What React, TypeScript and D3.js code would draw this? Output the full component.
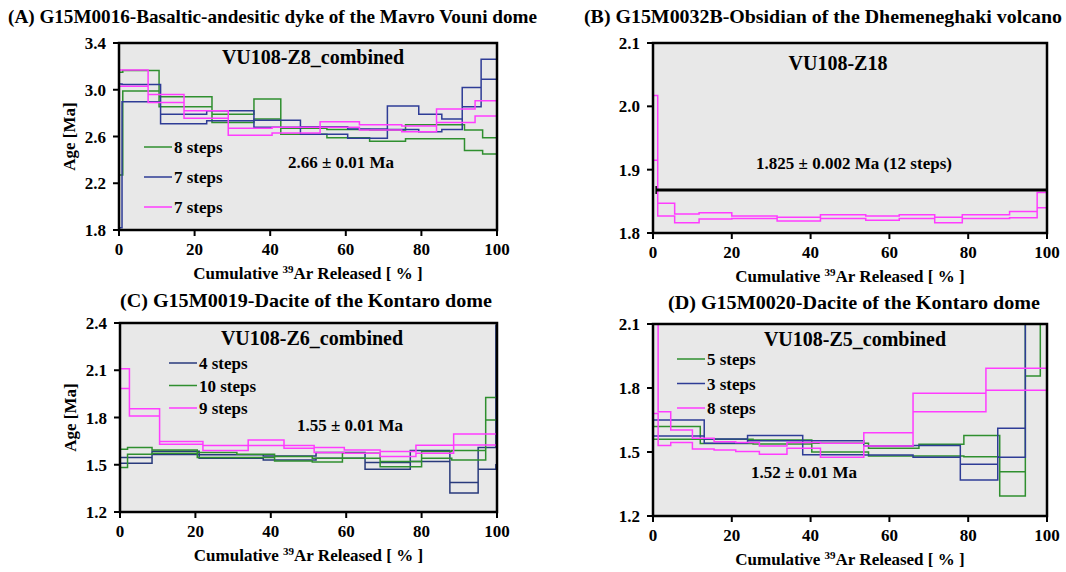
import React from "react";
import * as d3 from "d3";

const FONT = "'Liberation Serif', 'Times New Roman', serif";
const GREEN = "#2f8f2f";
const BLUE = "#2e3c96";
const NAVY = "#283a7c";
const MAGENTA = "#ff3cff";

// ---------- Panel A : VU108-Z8_combined ----------
const aGreenEdges = [0, 1, 10.6, 24.6, 35.7, 42.8, 55, 66.3, 75.8, 91.4, 96.2, 100];
const aGreenHi = [3.15, 3.165, 2.94, 2.79, 2.92, 2.67, 2.66, 2.656, 2.7, 2.656, 2.59];
const aGreenLo = [2.27, 2.99, 2.855, 2.72, 2.75, 2.62, 2.59, 2.56, 2.58, 2.48, 2.45];

const aBlueEdges = [0, 0.8, 11, 23.2, 35.7, 48, 60.5, 71, 79.3, 85.4, 90.8, 95.8, 100];
const aBlueHi = [3.05, 3.045, 2.79, 2.82, 2.74, 2.684, 2.665, 2.86, 2.79, 2.75, 3.02, 3.26];
const aBlueLo = [1.82, 2.898, 2.71, 2.735, 2.68, 2.62, 2.585, 2.66, 2.64, 2.66, 2.855, 3.09];

const aPinkEdges = [0, 7.7, 17.2, 28.9, 40.5, 53.2, 63.6, 74.8, 84, 94.2, 100];
const aPinkHi = [3.17, 2.96, 2.82, 2.67, 2.68, 2.727, 2.7, 2.69, 2.835, 2.906];
const aPinkLo = [3.03, 2.89, 2.756, 2.61, 2.63, 2.68, 2.656, 2.64, 2.72, 2.776];

// ---------- Panel B : VU108-Z18 ----------
const bPinkEdges = [0, 1.2, 5.5, 11.7, 20, 31.5, 42.5, 54, 62.5, 71.5, 78.5, 90.5, 97.5, 100];
const bPinkHi = [2.017, 1.847, 1.83, 1.832, 1.827, 1.825, 1.829, 1.827, 1.829, 1.825, 1.829, 1.834, 1.864];
const bPinkLo = [1.915, 1.827, 1.816, 1.822, 1.823, 1.819, 1.823, 1.82, 1.823, 1.816, 1.823, 1.824, 1.84];
const bPlateauAge = 1.868;
const bPlateauRange = [0.8, 100];

// ---------- Panel C : VU108-Z6_combined ----------
const cBlueEdges = [0, 8.5, 21, 38, 52, 65, 77, 87.5, 95, 99.7, 100];
const cBlueHi = [1.546, 1.585, 1.563, 1.556, 1.577, 1.514, 1.59, 1.387, 1.61, 2.385];
const cBlueLo = [1.51, 1.565, 1.541, 1.53, 1.541, 1.472, 1.52, 1.32, 1.472, 1.5];

const cGreenEdges = [0, 2, 8.5, 20.5, 31, 41, 51, 59, 69, 80, 88, 97, 100];
const cGreenHi = [1.598, 1.61, 1.594, 1.577, 1.567, 1.552, 1.541, 1.573, 1.52, 1.584, 1.59, 1.927];
const cGreenLo = [1.482, 1.567, 1.573, 1.546, 1.546, 1.524, 1.518, 1.541, 1.488, 1.541, 1.53, 1.784];

const cPinkEdges = [0, 2.5, 10.5, 22, 34, 43.5, 51.5, 59.5, 69, 78.5, 88.5, 100];
const cPinkHi = [2.109, 1.856, 1.647, 1.622, 1.657, 1.622, 1.61, 1.594, 1.584, 1.624, 1.695];
const cPinkLo = [1.984, 1.809, 1.63, 1.59, 1.622, 1.605, 1.577, 1.573, 1.552, 1.573, 1.626];

// ---------- Panel D : VU108-Z5_combined ----------
const dGreenEdges = [0, 12, 25.4, 40.3, 54.7, 67.5, 78.9, 88, 94.5, 98.3, 100];
const dGreenHi = [1.62, 1.56, 1.556, 1.541, 1.517, 1.536, 1.577, 1.408, 2.1, 2.4];
const dGreenLo = [1.56, 1.54, 1.537, 1.5, 1.481, 1.481, 1.478, 1.294, 1.856, 2.2];

const dBlueEdges = [0, 13, 24, 38, 53.5, 66, 78, 87.5, 94.5, 100];
const dBlueHi = [1.65, 1.561, 1.577, 1.553, 1.528, 1.53, 1.442, 1.611, 2.25];
const dBlueLo = [1.575, 1.541, 1.553, 1.487, 1.486, 1.475, 1.369, 1.475, 2.12];

const dPinkEdges = [0, 1.3, 4.5, 10, 15.5, 21, 27, 34, 42.5, 53.5, 66, 84.5, 100];
const dPinkHi = [2.3, 1.689, 1.603, 1.564, 1.548, 1.544, 1.528, 1.544, 1.541, 1.59, 1.775, 1.892];
const dPinkLo = [1.68, 1.53, 1.544, 1.514, 1.509, 1.502, 1.489, 1.517, 1.475, 1.528, 1.689, 1.79];

const xTicks = [0, 20, 40, 60, 80, 100];
const aYTicks = [1.8, 2.2, 2.6, 3.0, 3.4];
const bYTicks = [1.8, 1.9, 2.0, 2.1];
const cYTicks = [1.2, 1.5, 1.8, 2.1, 2.4];
const dYTicks = [1.2, 1.5, 1.8, 2.1];

type Series = { edges: number[]; hi: number[]; lo: number[]; color: string; label?: string };

function envelopePath(s: Series, x: any, y: any): string {
  const pts: [number, number][] = [];
  const n = s.hi.length;
  pts.push([s.edges[0], s.lo[0]]);
  for (let i = 0; i < n; i++) {
    pts.push([s.edges[i], s.hi[i]]);
    pts.push([s.edges[i + 1], s.hi[i]]);
  }
  for (let i = n - 1; i >= 0; i--) {
    pts.push([s.edges[i + 1], s.lo[i]]);
    pts.push([s.edges[i], s.lo[i]]);
  }
  return (d3.line().x((d: any) => x(d[0])).y((d: any) => y(d[1]))(pts as any) || "") + "Z";
}

type PanelProps = {
  id: string;
  left: number; right: number; top: number; bottom: number;
  domain: [number, number];
  yTicks: number[];
  yFmt: string;
  title: string; titleX: number; titleY: number; titleAnchor: string; titleLen: number;
  inner: string; innerX: number; innerY: number;
  series: Series[];
  legendX?: number; legendY?: number; legendDy?: number;
  age: string; ageX: number; ageY: number;
  yTitle: boolean;
  plateau?: { age: number; range: number[] };
};

function Panel(p: PanelProps) {
  const x = d3.scaleLinear().domain([0, 100]).range([p.left, p.right]);
  const y = d3.scaleLinear().domain(p.domain).range([p.bottom, p.top]);
  const fmt = d3.format(p.yFmt);
  const fs = 17;
  return (
    <g>
      <defs>
        <clipPath id={"clip" + p.id}>
          <rect x={p.left} y={p.top} width={p.right - p.left} height={p.bottom - p.top} />
        </clipPath>
      </defs>
      <text x={p.titleX} y={p.titleY} textAnchor={p.titleAnchor as any} fontFamily={FONT} fontWeight="bold" fontSize={19.5}
        textLength={p.titleLen} lengthAdjust="spacingAndGlyphs">
        {p.title}
      </text>
      <rect x={p.left} y={p.top} width={p.right - p.left} height={p.bottom - p.top} fill="#e8e8e8" />
      <g clipPath={`url(#clip${p.id})`}>
        {p.series.map((s, i) => (
          <path key={i} d={envelopePath(s, x, y)} fill="none" stroke={s.color} strokeWidth={1.5} />
        ))}
      </g>
      {p.plateau && (
        <g stroke="#000">
          <line x1={x(p.plateau.range[0])} x2={x(p.plateau.range[1])} y1={y(p.plateau.age)} y2={y(p.plateau.age)} strokeWidth={3} />
          <line x1={x(p.plateau.range[0])} x2={x(p.plateau.range[0])} y1={y(p.plateau.age) - 4} y2={y(p.plateau.age) + 4} strokeWidth={1.5} />
        </g>
      )}
      <rect x={p.left} y={p.top} width={p.right - p.left} height={p.bottom - p.top} fill="none" stroke="#000" strokeWidth={2.5} />
      {p.yTicks.map((t) => (
        <g key={t}>
          <line x1={p.left - 6} x2={p.left} y1={y(t)} y2={y(t)} stroke="#000" strokeWidth={2} />
          <text x={p.left - 13} y={y(t) + 6} textAnchor="end" fontFamily={FONT} fontWeight="bold" fontSize={fs}>
            {fmt(t)}
          </text>
        </g>
      ))}
      {xTicks.map((t) => (
        <g key={t}>
          <line x1={x(t)} x2={x(t)} y1={p.bottom} y2={p.bottom + 6} stroke="#000" strokeWidth={2} />
          <text x={x(t)} y={p.bottom + 25} textAnchor="middle" fontFamily={FONT} fontWeight="bold" fontSize={fs}>
            {t}
          </text>
        </g>
      ))}
      <text x={(p.left + p.right) / 2} y={p.bottom + 49} textAnchor="middle" fontFamily={FONT} fontWeight="bold" fontSize={fs}>
        Cumulative <tspan fontSize={11} dy={-6}>39</tspan><tspan dy={6}>Ar Released [ % ]</tspan>
      </text>
      {p.yTitle && (
        <text transform={`translate(${p.left - 44},${(p.top + p.bottom) / 2}) rotate(-90)`} textAnchor="middle" fontFamily={FONT} fontWeight="bold" fontSize={fs}>
          Age [Ma]
        </text>
      )}
      <text x={p.innerX} y={p.innerY} textAnchor="middle" fontFamily={FONT} fontWeight="bold" fontSize={20}>
        {p.inner}
      </text>
      {p.legendX !== undefined &&
        p.series.map((s, i) => (
          <g key={"l" + i}>
            <line x1={p.legendX!} x2={p.legendX! + 28} y1={p.legendY! + i * p.legendDy!} y2={p.legendY! + i * p.legendDy!} stroke={s.color} strokeWidth={1.5} />
            <text x={p.legendX! + 30} y={p.legendY! + i * p.legendDy! + 6} fontFamily={FONT} fontWeight="bold" fontSize={fs}>
              {s.label}
            </text>
          </g>
        ))}
      <text x={p.ageX} y={p.ageY} textAnchor="middle" fontFamily={FONT} fontWeight="bold" fontSize={fs}>
        {p.age}
      </text>
    </g>
  );
}

export default function App() {
  const panels: PanelProps[] = [
    {
      id: "A", left: 119, right: 497, top: 43, bottom: 230, domain: [1.8, 3.4], yTicks: aYTicks, yFmt: ".1f",
      title: "(A) G15M0016-Basaltic-andesitic dyke of the Mavro Vouni dome", titleX: 8, titleY: 23, titleAnchor: "start", titleLen: 529,
      inner: "VU108-Z8_combined", innerX: 313, innerY: 64,
      series: [
        { edges: aGreenEdges, hi: aGreenHi, lo: aGreenLo, color: GREEN, label: "8 steps" },
        { edges: aBlueEdges, hi: aBlueHi, lo: aBlueLo, color: BLUE, label: "7 steps" },
        { edges: aPinkEdges, hi: aPinkHi, lo: aPinkLo, color: MAGENTA, label: "7 steps" },
      ],
      legendX: 144, legendY: 147, legendDy: 30,
      age: "2.66 ± 0.01 Ma", ageX: 341, ageY: 168, yTitle: true,
    },
    {
      id: "B", left: 653, right: 1047, top: 43, bottom: 233, domain: [1.8, 2.1], yTicks: bYTicks, yFmt: ".1f",
      title: "(B) G15M0032B-Obsidian of the Dhemeneghaki volcano", titleX: 1062, titleY: 23, titleAnchor: "end", titleLen: 478,
      inner: "VU108-Z18", innerX: 838, innerY: 70,
      series: [{ edges: bPinkEdges, hi: bPinkHi, lo: bPinkLo, color: MAGENTA }],
      age: "1.825 ± 0.002 Ma (12 steps)", ageX: 854, ageY: 169, yTitle: false,
      plateau: { age: bPlateauAge, range: bPlateauRange },
    },
    {
      id: "C", left: 120, right: 497, top: 323, bottom: 512, domain: [1.2, 2.4], yTicks: cYTicks, yFmt: ".1f",
      title: "(C) G15M0019-Dacite of the Kontaro dome", titleX: 306, titleY: 307, titleAnchor: "middle", titleLen: 372,
      inner: "VU108-Z6_combined", innerX: 312, innerY: 345,
      series: [
        { edges: cBlueEdges, hi: cBlueHi, lo: cBlueLo, color: NAVY, label: "4 steps" },
        { edges: cGreenEdges, hi: cGreenHi, lo: cGreenLo, color: GREEN, label: "10 steps" },
        { edges: cPinkEdges, hi: cPinkHi, lo: cPinkLo, color: MAGENTA, label: "9 steps" },
      ],
      legendX: 169, legendY: 363, legendDy: 22.5,
      age: "1.55 ± 0.01 Ma", ageX: 350, ageY: 431, yTitle: true,
    },
    {
      id: "D", left: 653, right: 1047, top: 324, bottom: 516, domain: [1.2, 2.1], yTicks: dYTicks, yFmt: ".1f",
      title: "(D) G15M0020-Dacite of the Kontaro dome", titleX: 854, titleY: 309, titleAnchor: "middle", titleLen: 372,
      inner: "VU108-Z5_combined", innerX: 855, innerY: 346,
      series: [
        { edges: dGreenEdges, hi: dGreenHi, lo: dGreenLo, color: GREEN, label: "5 steps" },
        { edges: dBlueEdges, hi: dBlueHi, lo: dBlueLo, color: BLUE, label: "3 steps" },
        { edges: dPinkEdges, hi: dPinkHi, lo: dPinkLo, color: MAGENTA, label: "8 steps" },
      ],
      legendX: 677, legendY: 359, legendDy: 24.5,
      age: "1.52 ± 0.01 Ma", ageX: 804, ageY: 478, yTitle: false,
    },
  ];
  return (
    <svg width={1066} height={572} style={{ position: "absolute", left: 0, top: 0, background: "#fff" }}>
      <rect width={1066} height={572} fill="#fff" />
      {panels.map((p) => (
        <Panel key={p.id} {...p} />
      ))}
    </svg>
  );
}
